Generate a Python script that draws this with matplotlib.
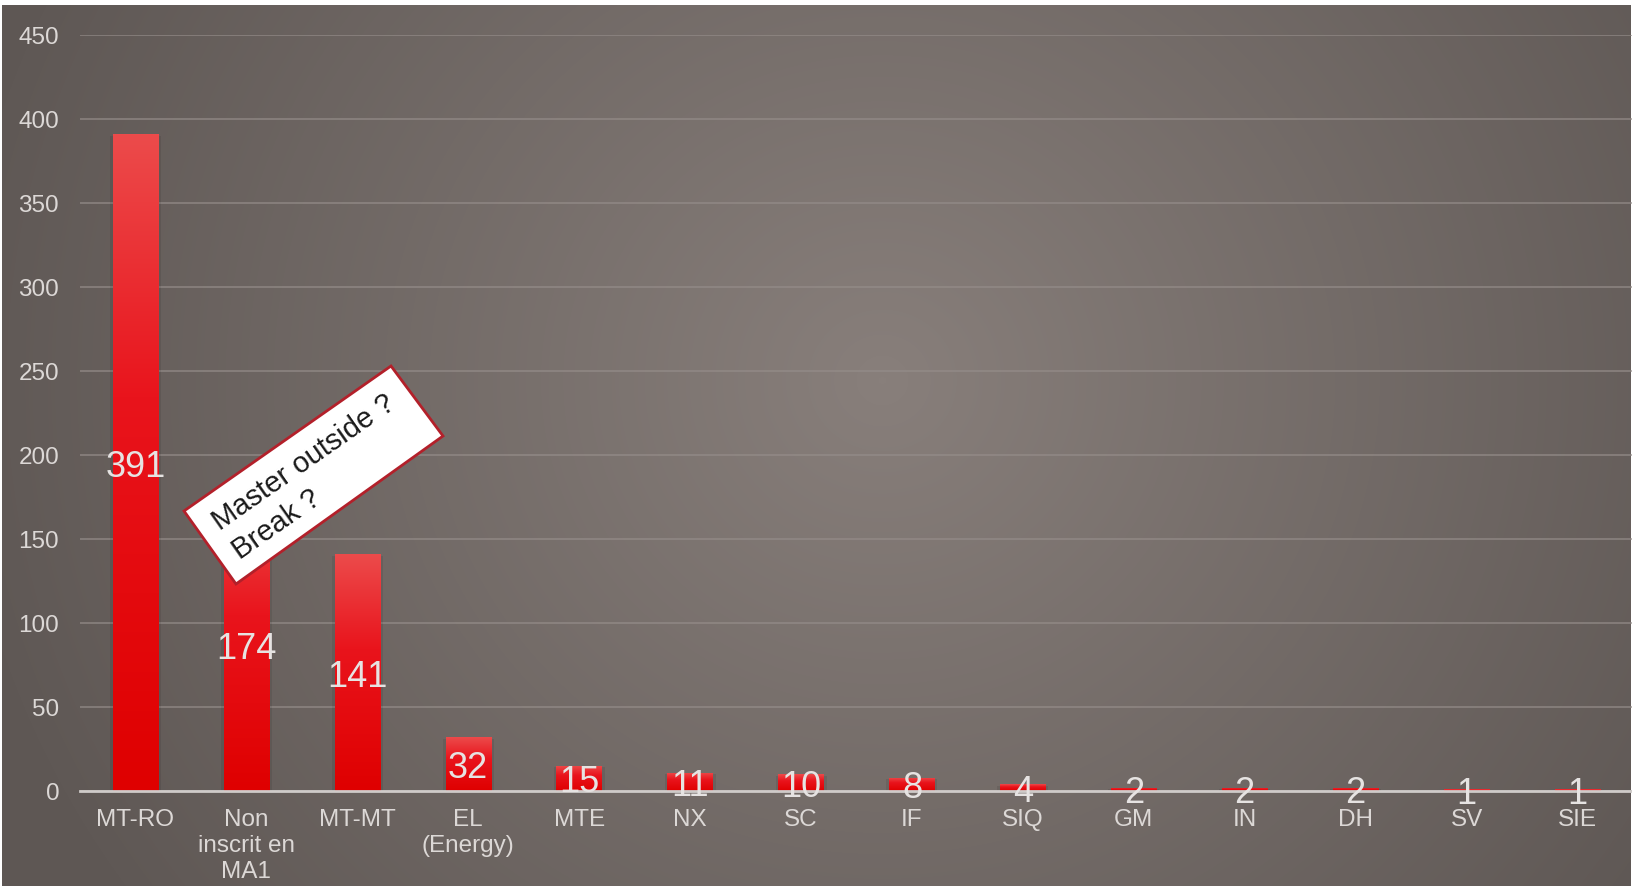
import numpy as np
import matplotlib
matplotlib.use("Agg")
import matplotlib.pyplot as plt
from matplotlib.colors import LinearSegmentedColormap
from matplotlib.patches import Polygon
import matplotlib.patheffects as pe

# donnees
categories = ["MT-RO", "Non\ninscrit en\nMA1", "MT-MT", "EL\n(Energy)", "MTE", "NX", "SC",
              "IF", "SIQ", "GM", "IN", "DH", "SV", "SIE"]
effectifs = [391, 174, 141, 32, 15, 11, 10, 8, 4, 2, 2, 2, 1, 1]
yticks = [0, 50, 100, 150, 200, 250, 300, 350, 400, 450]
note = "Master outside ?\nBreak ?"

plt.rcParams['font.family'] = ['Liberation Sans', 'DejaVu Sans']

W, H = 1633, 887
fig = plt.figure(figsize=(W / 100, H / 100), dpi=100, facecolor='white')

# fond degrade radial
bg = fig.add_axes([2 / W, 0, 1 - 4 / W, 881 / H])
bg.set_axis_off()
yy, xx = np.mgrid[0:881, 0:1629]
r = np.hypot(xx - 880, (yy - 375) * 1.05)
t = np.clip(r / 950, 0, 1)
bg_cmap = LinearSegmentedColormap.from_list("bg", ["#887f7b", "#5e5754"])
bg.imshow(t, cmap=bg_cmap, vmin=0, vmax=1, aspect='auto', interpolation='bilinear')

ax = fig.add_axes([80 / W, 95 / H, 1553 / W, 756 / H])
ax.set_facecolor('none')

x = np.arange(len(categories))
larg = 0.41
ombre = [pe.SimplePatchShadow(offset=(-2, -1), shadow_rgbFace='black', alpha=0.08),
         pe.SimplePatchShadow(offset=(2, -1), shadow_rgbFace='black', alpha=0.08),
         pe.Normal()]
bars = ax.bar(x, effectifs, width=larg, color='#e30008', zorder=2, path_effects=ombre)

bar_cmap = LinearSegmentedColormap.from_list(
    "barre", [(0, "#df0000"), (0.6, "#e9141c"), (1, "#ec4b4b")])
grad = np.linspace(0, 1, 256).reshape(-1, 1)
for b, v in zip(bars, effectifs):
    im = ax.imshow(grad, cmap=bar_cmap, origin='lower', aspect='auto',
                   extent=[b.get_x(), b.get_x() + b.get_width(), 0, v], zorder=3)
    im.set_clip_path(b)
    ax.annotate(str(v), (b.get_x() + b.get_width() / 2, v / 2), xytext=(0, -2.5),
                textcoords='offset points', ha='center', va='center',
                fontsize=26, color='#e6e3e2', zorder=6, annotation_clip=False)
ax.set_xlim(-0.5, 13.5)
ax.set_ylim(0, 450)

ax.set_yticks(yticks)
ax.set_xticks(x)
ax.set_xticklabels(categories, linespacing=1.25)
ax.tick_params(axis='both', length=0, labelsize=17.5, labelcolor='#dcd8d6')
ax.tick_params(axis='y', pad=15)
ax.tick_params(axis='x', pad=12)
for s in ['left', 'right', 'top']:
    ax.spines[s].set_visible(False)
ax.spines['bottom'].set_color('#cfcbc9')
ax.spines['bottom'].set_linewidth(2)
ax.spines['bottom'].set_zorder(4)
ax.grid(axis='y', color='#958d8a', linewidth=1.3, alpha=0.7, zorder=1)
ax.set_axisbelow(True)

# encadre incline
coins = [(184, 512), (391, 367), (443, 437), (236, 585)]
poly = Polygon([(cx / W, 1 - cy / H) for cx, cy in coins], closed=True,
               facecolor='white', edgecolor='#b3202a', linewidth=2,
               transform=fig.transFigure, zorder=10)
fig.add_artist(poly)
fig.text(314 / W, 1 - 477 / H, note, rotation=35, rotation_mode='anchor',
         ha='center', va='center', multialignment='left', fontsize=21,
         color='#1a1a1a', linespacing=1.3, zorder=11)

fig.savefig("out.png", dpi=100, facecolor=fig.get_facecolor())
